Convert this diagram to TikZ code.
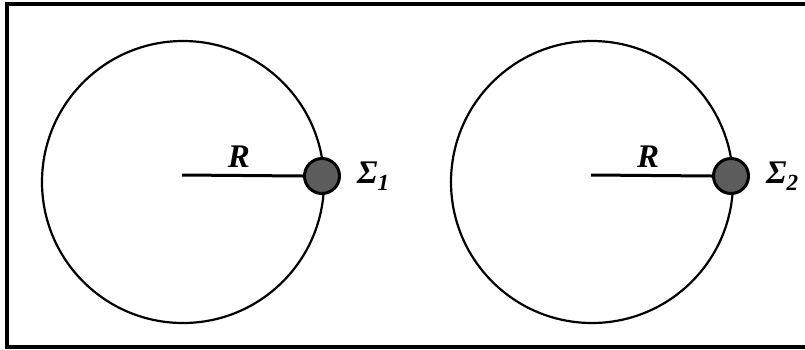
\documentclass[tikz,border=0pt]{standalone}
\usepackage{fontspec}
\setmainfont{Liberation Serif}
\usetikzlibrary{positioning}
\tikzset{
  ring/.style={circle, draw=black, line width=2.2pt, minimum size=282pt, inner sep=0pt},
  dot/.style={circle, draw=black, fill=black!64, line width=3pt, minimum size=35pt, inner sep=0pt},
  radius/.style={line width=3pt},
  lbl/.style={font=\fontsize{33}{36}\selectfont\bfseries\itshape, inner sep=1pt},
}
\begin{document}
\begin{tikzpicture}[x=1pt, y=-1pt]
  \useasboundingbox (0,0) rectangle (805,349);
  \begin{scope}
    \clip (0,0) rectangle (805,349);
    \draw[line width=3.5pt] (830,4) -- (7,4) -- (7,347) -- (830,347);
  \end{scope}

  % left circle
  \node[ring] (ring1) at (183,182) {};
  \coordinate (o1) at (182,175);
  \node[dot] (dot1) at (322,176) {};
  \draw[radius] (o1) -- (dot1.west);
  \node[lbl] (r1) at (239,157) {R};
  \node[lbl, right=15pt of dot1] (s1) {Σ\textsubscript{1}};

  % right circle
  \node[ring] (ring2) at (592,182) {};
  \coordinate (o2) at (591,175);
  \node[dot] (dot2) at (731,176) {};
  \draw[radius] (o2) -- (dot2.west);
  \node[lbl] (r2) at (648,157) {R};
  \node[lbl, right=15pt of dot2] (s2) {Σ\textsubscript{2}};
\end{tikzpicture}
\end{document}
